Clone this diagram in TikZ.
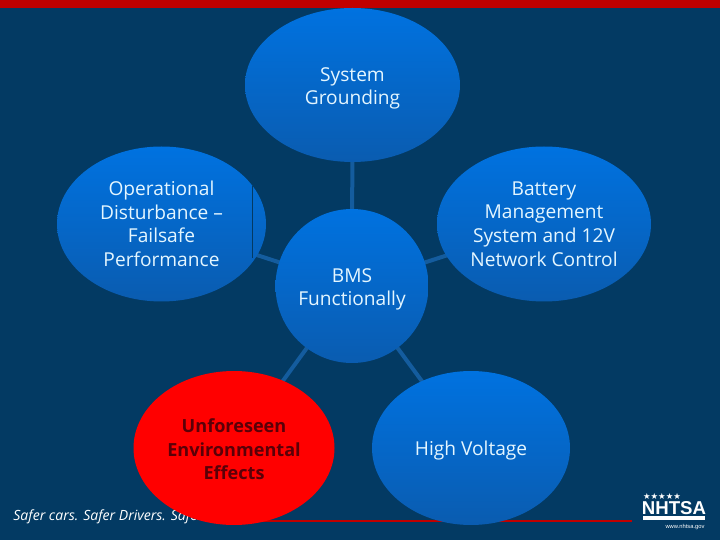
\documentclass[tikz,border=0pt]{standalone}
\usepackage{fontspec}
\setmainfont{Open Sans}
\newfontfamily\starfont{DejaVu Sans}
\newfontfamily\logofont{Liberation Sans}
\usetikzlibrary{shapes.geometric, backgrounds}
\definecolor{slidebg}{HTML}{033A63}
\definecolor{slidered}{HTML}{C00000}
\definecolor{ballTop}{HTML}{0072E0}
\definecolor{ballBot}{HTML}{0A5CB0}
\definecolor{linkblue}{HTML}{145C9E}
\definecolor{balltext}{HTML}{E4F6FF}
\definecolor{alerttext}{HTML}{5A0008}
\newcommand{\lifted}{\rule{0pt}{11.6pt}}

\begin{document}
\begin{tikzpicture}[
        x=0.02cm, y=-0.02cm,
        ball/.style={ellipse, inner sep=0pt, top color=ballTop, bottom color=ballBot, text=balltext, align=center, font=\fontsize{10.9}{13.4}\selectfont},
        alert/.style={ellipse, inner sep=0pt, fill=red, text=alerttext, align=center, font=\fontsize{10.3}{13.4}\selectfont\bfseries},
        link/.style={draw=linkblue, line width=0.08cm}
    ]
    \useasboundingbox (0,0) rectangle (720,540);
    % the five outer balls and the middle one
    \node (System) [ball, minimum width=215*0.02cm, minimum height=154*0.02cm] at (352.5,85) {\lifted System\\Grounding};
    \node (Operational) [ball, minimum width=209*0.02cm, minimum height=155*0.02cm] at (161.5,224) {Operational\\Disturbance --\\Failsafe\\Performance};
    \node (Battery) [ball, minimum width=214*0.02cm, minimum height=155*0.02cm] at (544,224) {Battery\\Management\\System and 12V\\Network Control};
    \node (BMS) [ball, minimum width=153*0.02cm, minimum height=154*0.02cm] at (352,286) {\lifted BMS\\Functionally};
    \node (Voltage) [ball, minimum width=198*0.02cm, minimum height=154*0.02cm] at (471,448) {\lifted High Voltage};
    \node (Effects) [alert, minimum width=201*0.02cm, minimum height=154*0.02cm] at (234,448) {\rule{0pt}{9.5pt}Unforeseen\\Environmental\\Effects};
    % logo
    \node (Stars) [text=white, inner sep=0pt, font=\starfont\fontsize{4.8}{5}\selectfont] at (662,496.5) {★★★★★};
    \node (Logo) [text=white, inner sep=0pt, font=\logofont\fontsize{10.6}{11}\selectfont\bfseries] at (674,508) {NHTSA};
    \node (Site) [text=white, inner sep=0pt, font=\logofont\fontsize{3.3}{4}\selectfont] at (685,527) {www.nhtsa.gov};
    \coordinate (RuleLeft) at (643,518);
    \coordinate (RuleRight) at (705,518);
    \draw [white, line width=0.07cm] (RuleLeft) -- (RuleRight);
    \coordinate (EdgeTop) at (252,186);
    \coordinate (EdgeBottom) at (252,258);
    \draw [draw=slidebg, line width=0.02cm] (EdgeTop) -- (EdgeBottom);
    \begin{scope}[on background layer]
        \fill [slidebg] (0,0) rectangle (720,540);
        \fill [slidered] (0,0) rectangle (720,8);
        \coordinate (FootLeft) at (210,521);
        \coordinate (FootRight) at (632,521);
        \draw [slidered, line width=0.025cm] (FootLeft) -- (FootRight);
        \node (Motto) [anchor=west, inner sep=0pt, text=white, font=\fontsize{8}{9}\selectfont\itshape] at (13,517) {Safer cars. Safer Drivers. Safer};
        \draw [link] (BMS.center) -- (System.center);
        \draw [link] (BMS.center) -- (Operational.center);
        \draw [link] (BMS.center) -- (Battery.center);
        \draw [link] (BMS.center) -- (Effects.center);
        \draw [link] (BMS.center) -- (Voltage.center);
    \end{scope}
\end{tikzpicture}
\end{document}
